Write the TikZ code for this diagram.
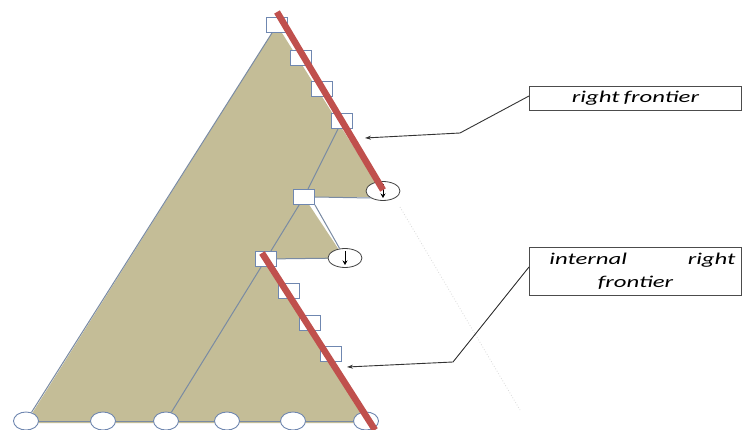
\documentclass[tikz,border=0pt]{standalone}
\usepackage{fontspec}
\usepackage{graphicx}
\setmainfont{Carlito}
\usetikzlibrary{arrows.meta,shapes.geometric}
\definecolor{tan}{HTML}{C4BD97}
\definecolor{edge}{HTML}{7A8BA3}
\definecolor{boxedge}{HTML}{6F87B0}
\definecolor{frontier}{HTML}{C0504D}
% wide italic lettering used in the labels
\newcommand{\widetext}[1]{\scalebox{1.5}[1]{#1}}
\begin{document}
\begin{tikzpicture}[x=1pt,y=-1pt,
  sq/.style={draw=boxedge,fill=white,line width=0.9pt,minimum width=21pt,minimum height=15pt,inner sep=0pt},
  leaf/.style={draw=boxedge,fill=white,line width=0.9pt,ellipse,minimum width=25pt,minimum height=18pt,inner sep=0pt},
  stub/.style={draw=black!75,fill=white,line width=0.8pt,ellipse,minimum width=34pt,minimum height=19pt,inner sep=0pt},
  treeedge/.style={draw=edge,line width=1pt},
  redline/.style={draw=frontier,line width=6.5pt},
  label/.style={draw=black!70,line width=0.9pt,fill=white,font=\itshape\fontsize{16.5}{24}\selectfont,inner sep=0pt},
  pointer/.style={draw=black!80,line width=0.9pt,-{Stealth[length=6pt,width=4pt]}}]
\useasboundingbox (0,0) rectangle (742,430);
\fill[white] (0,0) rectangle (742,430);

% shaded tree area
\fill[tan] (277,25) -- (385,197) -- (304,197) -- (345,259) -- (266,259) -- (370,423) -- (26,423) -- cycle;

% faint outline of the pruned part
\draw[black!14,line width=0.8pt,dotted] (400,207) -- (520,410);

% nodes
\node[sq] (t1) at (277,25) {};
\node[sq] (t2) at (301,58) {};
\node[sq] (t3) at (322,89) {};
\node[sq] (t4) at (342,121) {};
\node[sq] (m)  at (304,197) {};
\node[sq] (u1) at (266,259) {};
\node[sq] (u2) at (289,291) {};
\node[sq] (u3) at (310,323) {};
\node[sq] (u4) at (331,354) {};
\node[stub] (c1) at (383,191) {};
\node[stub] (c2) at (345,258) {};
\node[leaf] (l1) at (26,421) {};
\node[leaf] (l2) at (103,421) {};
\node[leaf] (l3) at (166,421) {};
\node[leaf] (l4) at (227,421) {};
\node[leaf] (l5) at (293,421) {};
\node[leaf] (l6) at (366,421) {};

% tree edges
\draw[treeedge] (l1) -- (t1);
\draw[treeedge] (t4) -- (m);
\draw[treeedge] (m) -- (u1);
\draw[treeedge] (m.south east) -- (c2);
\draw[treeedge] (m.east) -- (c1.south west);
\draw[treeedge] (u1) -- (c2);
\draw[treeedge] (u1) -- (l3);
\draw[treeedge] (l1) -- (l2) -- (l3) -- (l4) -- (l5) -- (l6);

% downward arrows inside the stub circles
\draw[black,line width=1pt,-{Stealth[length=4.5pt,width=5pt]}] ([yshift=7pt]c1.center) -- ([yshift=-7pt]c1.center);
\draw[black,line width=1pt,-{Stealth[length=4.5pt,width=5pt]}] ([yshift=7pt]c2.center) -- ([yshift=-7pt]c2.center);

% frontiers
\coordinate (r1a) at (277,12);
\coordinate (r1b) at (383,190);
\coordinate (r2a) at (262,253);
\coordinate (r2b) at (375,430);
\draw[redline] (r1a) -- (r1b);
\draw[redline] (r2a) -- (r2b);

% labels
\node[label,minimum width=212pt,minimum height=24pt,anchor=west] (rf) at (529,98) {\widetext{right\,frontier}};
\node[label,minimum width=212pt,minimum height=48pt,anchor=west] (irf) at (529,271)
  {\begin{tabular}{@{}c@{}}\hbox to 200pt{\hspace*{14pt}\widetext{internal}\hfill\widetext{right}}\\[-1pt]\widetext{frontier}\end{tabular}};

\coordinate (k1) at (460,133);
\coordinate (k2) at (453,362);
\coordinate (p1) at (365,138);
\coordinate (p2) at (347,367);
\draw[pointer] ([yshift=2pt]rf.west) -- (k1) -- (p1);
\draw[pointer] ([yshift=4pt]irf.west) -- (k2) -- (p2);
\end{tikzpicture}
\end{document}
